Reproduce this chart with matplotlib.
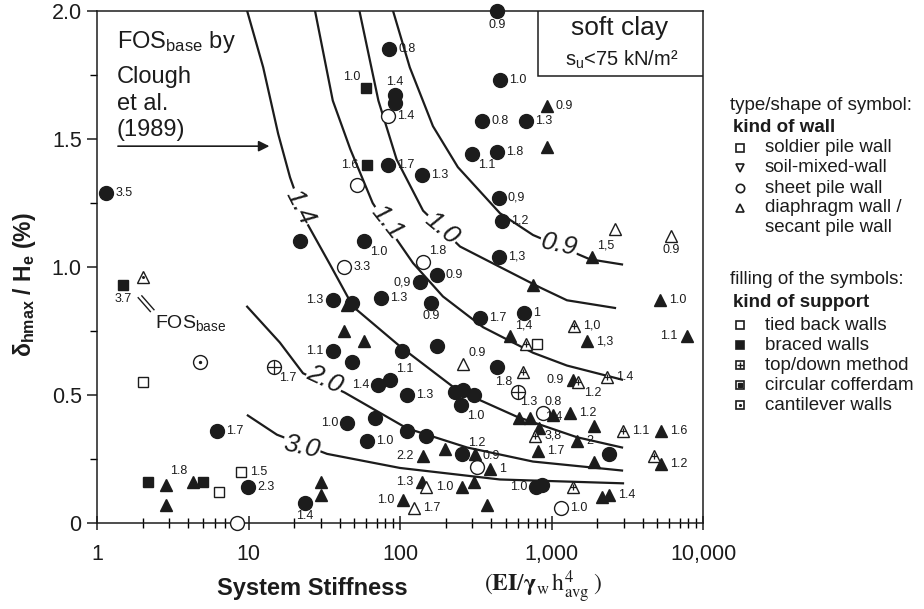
import numpy as np
import matplotlib.pyplot as plt
from matplotlib.lines import Line2D
from matplotlib.patches import Rectangle
from matplotlib.ticker import LogLocator, MultipleLocator, NullFormatter

plt.rcParams['font.family'] = ['Liberation Sans', 'DejaVu Sans']
plt.rcParams['mathtext.fontset'] = 'custom'
plt.rcParams['mathtext.rm'] = 'Liberation Sans'
plt.rcParams['mathtext.it'] = 'Liberation Sans:italic'
plt.rcParams['mathtext.bf'] = 'Liberation Sans:bold'

# FOS_base curves after Clough et al. (1989)
fos_09_x = [90, 116, 165, 241, 457, 755, 1795, 2920]
fos_09_y = [2.0, 1.78, 1.55, 1.39, 1.21, 1.125, 1.03, 1.01]
fos_10_x = [54, 72, 95, 142, 249, 457, 840, 1265, 2625]
fos_10_y = [2.0, 1.65, 1.42, 1.22, 1.08, 1.0, 0.92, 0.87, 0.84]
fos_11_x = [27.5, 36, 47, 66, 86, 122, 192, 353, 755, 1265, 2920]
fos_11_y = [2.0, 1.65, 1.46, 1.25, 1.145, 1.015, 0.885, 0.765, 0.665, 0.615, 0.56]
fos_14_x = [9.8, 12.5, 15.7, 18.8, 23.6, 34.5, 49, 100, 238, 592, 1473, 2920]
fos_14_y = [2.0, 1.78, 1.52, 1.35, 1.185, 1.01, 0.845, 0.69, 0.52, 0.415, 0.335, 0.295]
fos_20_x = [9.8, 16.1, 22.9, 43, 111, 277, 755, 2920]
fos_20_y = [0.845, 0.705, 0.585, 0.51, 0.37, 0.295, 0.24, 0.205]
fos_30_x = [9.9, 15.4, 33, 100, 457, 2965]
fos_30_y = [0.42, 0.345, 0.27, 0.215, 0.17, 0.155]

fos_labels = ['0.9', '1.0', '1.1', '1.4', '2.0', '3.0']
fos_lbl_x = [1120, 189, 82, 21.9, 32, 22.5]
fos_lbl_y = [1.085, 1.15, 1.175, 1.235, 0.56, 0.297]
fos_lbl_rot = [-12, -40, -52, -63, -25, -12]

# data points: x = system stiffness, y = delta_hmax/He (%), label = FOS_base
# filled circle: sheet pile wall, braced
fc_x = [1.15, 22, 440, 85, 93, 93, 460, 350, 680, 435, 300, 83, 140, 450, 470,
        58, 175, 136, 450, 36, 48, 75, 36, 48, 103, 160, 337, 660, 175, 437,
        72, 86, 111, 231, 262, 308, 253, 2400, 790, 865, 23.6, 257, 111, 148,
        45, 68, 61, 6.2, 9.9]
fc_y = [1.29, 1.10, 2.00, 1.85, 1.67, 1.64, 1.73, 1.57, 1.57, 1.45, 1.44, 1.40,
        1.36, 1.27, 1.18, 1.10, 0.97, 0.94, 1.04, 0.87, 0.86, 0.88, 0.67, 0.63,
        0.67, 0.86, 0.80, 0.82, 0.69, 0.61, 0.54, 0.56, 0.50, 0.51, 0.52, 0.50,
        0.46, 0.27, 0.14, 0.15, 0.08, 0.27, 0.36, 0.34, 0.39, 0.41, 0.32, 0.36,
        0.14]
fc_lbl = ['3.5', '', '0.9', '0.8', '1.4', '', '1.0', '0.8', '1.3', '1.8', '1.1',
          '1.7', '1.3', '0,9', '1,2', '1.0', '0.9', '0,9', '1,3', '1.3', '',
          '1.3', '1.1', '', '', '0.9', '1.7', '1', '', '', '1.4', '1.1', '1.3',
          '', '', '', '1.0', '', '1.0', '', '1.4', '1.2', '', '', '1.0', '',
          '1.0', '1.7', '2.3']
fc_side = ['r', '', 'b', 'r', 'a', '', 'r', 'r', 'r', 'r', 'br', 'r', 'r', 'r',
           'r', 'br', 'r', 'l', 'r', 'l', '', 'r', 'l', '', '', 'b', 'r', 'r',
           '', '', 'l', 'ar', 'r', '', '', '', 'br', '', 'l', '', 'b', 'ar', '',
           '', 'l', '', 'r', 'r', 'r']

# open circle: sheet pile wall, tied back
oc_x = [83, 52, 43, 142, 880, 1150, 322, 8.4]
oc_y = [1.59, 1.32, 1.00, 1.02, 0.43, 0.06, 0.22, 0.0]
oc_lbl = ['1.4', '', '3.3', '1.8', '1.3', '1.0', '0.9', '']
oc_side = ['r', '', 'r', 'ar', 'al', 'r', 'ar', '']

# circle with cross: sheet pile wall, top/down
xc_x = [14.7, 600]
xc_y = [0.61, 0.51]
xc_lbl = ['1.7', '1.8']
xc_side = ['br', 'al']

# circle with dot: sheet pile wall, cantilever
dc_x = [4.8]
dc_y = [0.63]

# filled triangle: diaphragm wall, braced
ft_x = [930, 930, 1850, 755, 5200, 45, 43, 58, 530, 1720, 7800, 1390, 610,
        720, 1020, 1320, 830, 1900, 1470, 815, 1900, 5300, 5300, 2150, 2400,
        375, 257, 308, 140, 105, 30, 30, 313, 393, 198, 142, 2.85, 2.85, 4.3]
ft_y = [1.63, 1.47, 1.04, 0.93, 0.87, 0.85, 0.75, 0.71, 0.73, 0.71, 0.73,
        0.56, 0.41, 0.41, 0.42, 0.43, 0.37, 0.38, 0.32, 0.28, 0.24, 0.36, 0.23,
        0.10, 0.11, 0.07, 0.14, 0.16, 0.16, 0.09, 0.16, 0.11, 0.27, 0.21, 0.29,
        0.26, 0.15, 0.07, 0.16]
ft_lbl = ['0.9', '', '1,5', '', '1.0', '', '', '', '1,4', '1,3', '1.1', '0.9',
          '', '', '0.8', '1.2', '1.4', '', '2', '1.7', '', '1.6', '1.2', '',
          '1.4', '', '1.0', '', '1.3', '1.0', '', '', '', '1', '', '2.2', '',
          '', '1.8']
ft_side = ['r', '', 'ar', '', 'r', '', '', '', 'ar', 'r', 'l', 'l', '', '', 'a',
           'r', 'ar', '', 'r', 'r', '', 'r', 'r', '', 'r', '', 'l', '', 'l', 'l',
           '', '', '', 'r', '', 'l', '', '', 'al']

# open triangle: diaphragm wall, tied back
ot_x = [2620, 6150, 260, 148, 124]
ot_y = [1.15, 1.12, 0.62, 0.14, 0.06]
ot_lbl = ['', '0.9', '0.9', '', '1.7']
ot_side = ['', 'b', 'ar', '', 'r']

# triangle with cross: diaphragm wall, top/down
xt_x = [680, 1410, 650, 1500, 2320, 780, 2960, 4750, 1390]
xt_y = [0.70, 0.77, 0.59, 0.55, 0.57, 0.34, 0.36, 0.26, 0.14]
xt_lbl = ['', '1,0', '', '1.2', '1.4', '3,8', '1.1', '', '']
xt_side = ['', 'r', '', 'br', 'r', 'r', 'r', '', '']

# triangle with dot: diaphragm wall, cantilever
dt_x = [2.0]
dt_y = [0.96]

# filled square: soldier pile wall, braced
fs_x = [60, 61, 1.48, 2.17, 5.0]
fs_y = [1.70, 1.40, 0.93, 0.16, 0.16]
fs_lbl = ['1.0', '1.6', '3.7', '', '']
fs_side = ['al', 'l', 'b', '', '']

# open square: soldier pile wall, tied back
os_x = [800, 2.0, 6.4, 8.9]
os_y = [0.70, 0.55, 0.12, 0.20]
os_lbl = ['', '', '', '1.5']
os_side = ['', '', '', 'r']

x_ticks = [1, 10, 100, 1000, 10000]
x_ticklabels = ['1', '10', '100', '1,000', '10,000']
y_ticks = [0, 0.5, 1.0, 1.5, 2.0]
y_ticklabels = ['0', '0.5', '1.0', '1.5', '2.0']

INK = '#1c1c1c'
SIDES = {'r': (6.5, 0, 'left', 'center'), 'l': (-6.5, 0, 'right', 'center'),
         'a': (0, 5.5, 'center', 'bottom'), 'b': (0, -5.5, 'center', 'top'),
         'ar': (4, 3.5, 'left', 'bottom'), 'al': (-4, 3.5, 'right', 'bottom'),
         'br': (4, -3.5, 'left', 'top')}

W, H = 924, 609
fig = plt.figure(figsize=(W / 100, H / 100), dpi=100)
ax = fig.add_axes([97 / W, 1 - 523 / H, 606 / W, 512 / H])
ax.set_xscale('log')
ax.set_xlim(1, 10000)
ax.set_ylim(0, 2.0)

curves = [(fos_09_x, fos_09_y), (fos_10_x, fos_10_y), (fos_11_x, fos_11_y),
          (fos_14_x, fos_14_y), (fos_20_x, fos_20_y), (fos_30_x, fos_30_y)]
for (cx, cy) in curves:
    ax.plot(cx, cy, color=INK, lw=1.6, zorder=2)
for s, lx, ly, r in zip(fos_labels, fos_lbl_x, fos_lbl_y, fos_lbl_rot):
    ax.text(lx, ly, s, rotation=r, rotation_mode='anchor', ha='center',
            va='center', fontsize=19, style='italic', color=INK, zorder=2.5,
            bbox=dict(fc='white', ec='none', pad=0.5))


def pts(xs, ys, marker, ms, filled, extra=None, extra_ms=0):
    ax.plot(xs, ys, ls='none', marker=marker, ms=ms,
            mfc=INK if filled else 'white', mec=INK, mew=1.0,
            clip_on=False, zorder=3)
    if extra:
        ax.plot(xs, ys, ls='none', marker=extra, ms=extra_ms, mfc=INK,
                mec=INK, mew=0.9, clip_on=False, zorder=3.1)


def labels(xs, ys, lbls, sides):
    for x, y, s, sd in zip(xs, ys, lbls, sides):
        if not s:
            continue
        dx, dy, ha, va = SIDES[sd]
        ax.annotate(s, (x, y), xytext=(dx, dy), textcoords='offset points',
                    ha=ha, va=va, fontsize=9, color=INK, zorder=4)


pts(fc_x, fc_y, 'o', 10, True)
pts(oc_x, oc_y, 'o', 10, False)
pts(xc_x, xc_y, 'o', 10, False, '+', 10)
pts(dc_x, dc_y, 'o', 10, False, '.', 3)
pts(ft_x, ft_y, '^', 8.5, True)
pts(ot_x, ot_y, '^', 8.5, False)
pts(xt_x, xt_y, '^', 8.5, False, '+', 5)
pts(dt_x, dt_y, '^', 8.5, False, '.', 2.5)
pts(fs_x, fs_y, 's', 7.5, True)
pts(os_x, os_y, 's', 7.5, False)

labels(fc_x, fc_y, fc_lbl, fc_side)
labels(oc_x, oc_y, oc_lbl, oc_side)
labels(xc_x, xc_y, xc_lbl, xc_side)
labels(ft_x, ft_y, ft_lbl, ft_side)
labels(ot_x, ot_y, ot_lbl, ot_side)
labels(xt_x, xt_y, xt_lbl, xt_side)
labels(fs_x, fs_y, fs_lbl, fs_side)
labels(os_x, os_y, os_lbl, os_side)

# axes styling
ax.set_xticks(x_ticks)
ax.set_xticklabels(x_ticklabels)
ax.xaxis.set_minor_locator(LogLocator(base=10, subs=np.arange(2, 10)))
ax.xaxis.set_minor_formatter(NullFormatter())
ax.set_yticks(y_ticks)
ax.set_yticklabels(y_ticklabels)
ax.yaxis.set_minor_locator(MultipleLocator(0.25))
ax.tick_params(axis='x', which='major', direction='inout', length=10,
               width=1.1, labelsize=15.5, pad=10, colors=INK)
ax.tick_params(axis='x', which='minor', direction='inout', length=7, width=1.0)
ax.tick_params(axis='y', which='major', direction='out', length=7, width=1.1,
               labelsize=15.5, pad=4, colors=INK)
ax.tick_params(axis='y', which='minor', direction='out', length=5, width=1.0)
for sp in ax.spines.values():
    sp.set_linewidth(1.1)
    sp.set_color(INK)

# soft clay box
ax.add_patch(Rectangle((0.728, 0.873), 0.272, 0.127, transform=ax.transAxes,
                       fc='white', ec=INK, lw=1.1, zorder=5))
ax.text(0.863, 0.953, 'soft clay', transform=ax.transAxes, ha='center',
        va='baseline', fontsize=19, color=INK, zorder=6)
ax.text(0.866, 0.894, r's$_\mathrm{u}$<75 kN/m²', transform=ax.transAxes,
        ha='center', va='baseline', fontsize=14.5, color=INK, zorder=6)

# FOS annotation top-left
for s, yy in zip([r'FOS$_\mathrm{base}$ by', 'Clough', 'et al.', '(1989)'],
                 [0.928, 0.859, 0.807, 0.756]):
    ax.text(0.033, yy, s, transform=ax.transAxes, ha='left', va='baseline',
            fontsize=17, color=INK)
ax.annotate('', xy=(0.289, 0.736), xytext=(0.030, 0.736),
            xycoords='axes fraction',
            arrowprops=dict(arrowstyle='-|>', color=INK, lw=1.2,
                            mutation_scale=16))
ax.text(0.0957, 0.381, r'FOS$_\mathrm{base}$', transform=ax.transAxes,
        ha='left', va='baseline', fontsize=14, color=INK)
for dx in (0.0, 0.006):
    ax.plot([0.068 + dx, 0.088 + dx], [0.440 + dx * 0.6, 0.413 + dx * 0.6],
            transform=ax.transAxes, color=INK, lw=1.0, clip_on=False)

# axis titles
fig.text(25 / W, 1 - 285 / H, r'$\mathbf{\delta_{hmax}}$ / H$_\mathbf{e}$ (%)',
         rotation=90, ha='center', va='center', fontsize=16.5,
         fontweight='bold', color=INK)
fig.text(312 / W, 1 - 588 / H, 'System Stiffness', ha='center', va='center',
         fontsize=17, fontweight='bold', color=INK)
fig.text(543 / W, 1 - 587 / H,
         r'$(\mathbf{EI}/\mathbf{\gamma}_{\mathrm{w}}\,\mathrm{h}^{4}_{\mathrm{avg}}\;)$',
         ha='center', va='center', fontsize=17, color=INK,
         math_fontfamily='stix')

# legend block on the right


def fx(px):
    return px / W


def fy(py):
    return 1 - py / H


leg_fs = 13.5
fig.text(fx(730), fy(105), 'type/shape of symbol:', ha='left', va='center',
         fontsize=leg_fs, color=INK)
fig.text(fx(733), fy(128), 'kind of wall', ha='left', va='center',
         fontsize=leg_fs, fontweight='bold', color=INK)
wall_names = ['soldier pile wall', 'soil-mixed-wall', 'sheet pile wall',
              'diaphragm wall /']
wall_markers = ['s', 'v', 'o', '^']
for i, (nm, mk) in enumerate(zip(wall_names, wall_markers)):
    yy = 148 + 20 * i
    fig.add_artist(Line2D([fx(740)], [fy(yy)], marker=mk, ms=6, mfc='white',
                          mec=INK, mew=1.2, transform=fig.transFigure))
    fig.text(fx(765), fy(yy), nm, ha='left', va='center', fontsize=leg_fs,
             color=INK)
fig.text(fx(765), fy(228), 'secant pile wall', ha='left', va='center',
         fontsize=leg_fs, color=INK)

fig.text(fx(730), fy(280), 'filling of the symbols:', ha='left', va='center',
         fontsize=leg_fs, color=INK)
fig.text(fx(733), fy(303), 'kind of support', ha='left', va='center',
         fontsize=leg_fs, fontweight='bold', color=INK)
support_names = ['tied back walls', 'braced walls', 'top/down method',
                 'circular cofferdam', 'cantilever walls']
support_inner = [None, None, '+', 's', '.']
for i, (nm, inner) in enumerate(zip(support_names, support_inner)):
    yy = 325 + 20 * i
    filled = nm == 'braced walls'
    fig.add_artist(Line2D([fx(740)], [fy(yy)], marker='s', ms=6,
                          mfc=INK if filled else 'white', mec=INK, mew=1.2,
                          transform=fig.transFigure))
    if inner:
        fig.add_artist(Line2D([fx(740)], [fy(yy)], marker=inner,
                              ms={'+': 4, 's': 2.5, '.': 2.5}[inner],
                              mfc=INK, mec=INK, mew=1.0,
                              transform=fig.transFigure))
    fig.text(fx(765), fy(yy), nm, ha='left', va='center', fontsize=leg_fs,
             color=INK)

plt.savefig('out.png', dpi=100)
